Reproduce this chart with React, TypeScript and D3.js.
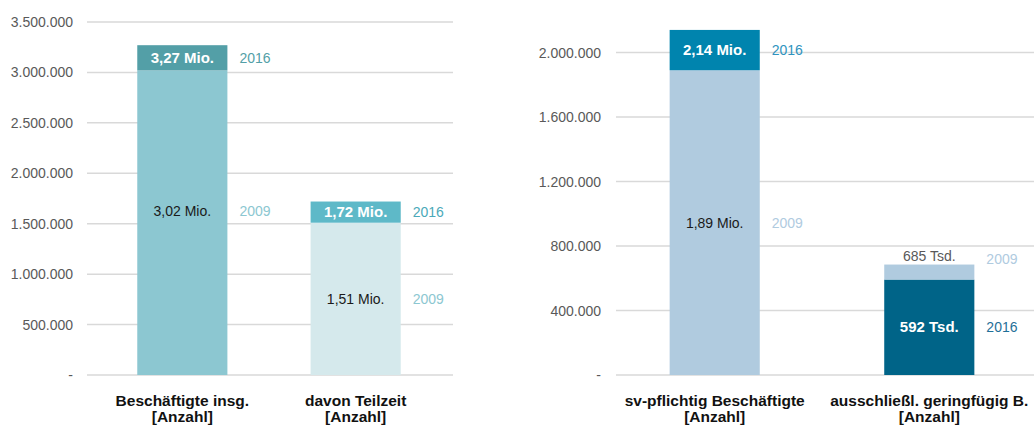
import React from "react";
import * as d3 from "d3";

// ---------- data ----------
const leftCategories = ["Beschäftigte insg.", "davon Teilzeit"];
const leftValues2009 = [3020000, 1510000];
const leftValues2016 = [3270000, 1720000];
const leftTicks = [0, 500000, 1000000, 1500000, 2000000, 2500000, 3000000, 3500000];

const rightCategories = ["sv-pflichtig Beschäftigte", "ausschließl. geringfügig B."];
const rightValues2009 = [1890000, 685000];
const rightValues2016 = [2140000, 592000];
const rightTicks = [0, 400000, 800000, 1200000, 1600000, 2000000];

const unitLabel = "[Anzahl]";
const years = ["2009", "2016"];

// ---------- styles ----------
const leftFill2009 = ["#8CC7D1", "#D5E9EC"];
const leftFill2016 = ["#539FA7", "#5EB9C8"];
const leftYear2009 = ["#8CC7D1", "#8CC7D1"];
const leftYear2016 = ["#539FA7", "#4BA9B9"];
const leftLowerLabelShift = [-12, 0];
const rightFill2009 = ["#B0CBDF", "#B0CBDF"];
const rightFill2016 = ["#0084AE", "#006488"];
const rightYear2009 = ["#B0CBDF", "#B0CBDF"];
const rightYear2016 = ["#2E93C0", "#1F7098"];
const rightLowerLabelShift = [0, 0];

const FONT = "'Liberation Sans', Arial, sans-serif";
const GRID = "#D9D9D9";
const TICK_TEXT = "#595959";

const de = d3.formatLocale({ decimal: ",", thousands: ".", grouping: [3], currency: ["", "€"] });
const fmtTick = (v: number) => (v === 0 ? "-" : de.format(",")(v));
const fmtValue = (v: number) =>
  v >= 1e6 ? `${(v / 1e6).toFixed(2).replace(".", ",")} Mio.` : `${Math.round(v / 1000)} Tsd.`;

type PanelProps = {
  categories: string[];
  v2009: number[];
  v2016: number[];
  fill2009: string[];
  fill2016: string[];
  year2009: string[];
  year2016: string[];
  lowerShift: number[];
  ticks: number[];
  yDomainMax: number;
  yRangeTop: number;
  gridX0: number;
  gridX1: number;
  bandX1: number;
  paddingInner: number;
  paddingOuter: number;
  labelRight: number;
};

function Panel(p: PanelProps) {
  const y0 = 375;
  const y = d3.scaleLinear().domain([0, p.yDomainMax]).range([y0, p.yRangeTop]);
  const x = d3
    .scaleBand<string>()
    .domain(p.categories)
    .range([p.gridX0, p.bandX1])
    .paddingInner(p.paddingInner)
    .paddingOuter(p.paddingOuter);
  const bw = x.bandwidth();

  return (
    <g>
      {p.ticks.map((t) => (
        <g key={t}>
          <line x1={p.gridX0} x2={p.gridX1} y1={y(t)} y2={y(t)} stroke={GRID} strokeWidth={1.5} />
          <text
            x={p.labelRight}
            y={y(t) + 5}
            textAnchor="end"
            fontSize={14}
            fontFamily={FONT}
            fill={TICK_TEXT}
          >
            {fmtTick(t)}
          </text>
        </g>
      ))}
      {p.categories.map((c, i) => {
        const bx = x(c) as number;
        const a = p.v2009[i];
        const b = p.v2016[i];
        const segs = [
          { year: years[0], v: a, fill: p.fill2009[i], yc: p.year2009[i] },
          { year: years[1], v: b, fill: p.fill2016[i], yc: p.year2016[i] },
        ].sort((s1, s2) => s1.v - s2.v);
        const lower = segs[0];
        const upper = segs[1];
        const lowerTop = y(lower.v);
        const upperTop = y(upper.v);
        const items = [
          { seg: lower, top: lowerTop, bottom: y0, shift: p.lowerShift[i] },
          { seg: upper, top: upperTop, bottom: lowerTop, shift: 0 },
        ];
        return (
          <g key={c}>
            {items.map((it) => (
              <rect
                key={it.seg.year}
                x={bx}
                y={it.top}
                width={bw}
                height={it.bottom - it.top}
                fill={it.seg.fill}
              />
            ))}
            {items.map((it) => {
              const h = it.bottom - it.top;
              const inside = h > 18;
              const isDark = it.seg.year === "2016";
              const cy = (inside ? (it.top + it.bottom) / 2 : it.top - 9) + it.shift;
              return (
                <g key={"l" + it.seg.year}>
                  <text
                    x={bx + bw / 2}
                    y={cy + 5}
                    textAnchor="middle"
                    fontFamily={FONT}
                    fontSize={inside && isDark ? 15 : 14}
                    fontWeight={inside && isDark ? "bold" : "normal"}
                    fill={inside ? (isDark ? "#FFFFFF" : "#1A1A1A") : TICK_TEXT}
                  >
                    {fmtValue(it.seg.v)}
                  </text>
                  <text
                    x={bx + bw + 12}
                    y={cy + (inside ? 5 : 8)}
                    textAnchor="start"
                    fontFamily={FONT}
                    fontSize={14}
                    fill={it.seg.yc}
                  >
                    {it.seg.year}
                  </text>
                </g>
              );
            })}
            <text
              x={bx + bw / 2}
              y={405.5}
              textAnchor="middle"
              fontFamily={FONT}
              fontSize={15.5}
              fontWeight="bold"
              fill="#111111"
            >
              {c}
            </text>
            <text
              x={bx + bw / 2}
              y={422}
              textAnchor="middle"
              fontFamily={FONT}
              fontSize={15.5}
              fontWeight="bold"
              fill="#111111"
            >
              {unitLabel}
            </text>
          </g>
        );
      })}
    </g>
  );
}

export default function App() {
  return (
    <svg
      width={1034}
      height={429}
      style={{ position: "absolute", left: 0, top: 0, background: "#FFFFFF" }}
    >
      <rect x={0} y={0} width={1034} height={429} fill="#FFFFFF" />
      <Panel
        categories={leftCategories}
        v2009={leftValues2009}
        v2016={leftValues2016}
        fill2009={leftFill2009}
        fill2016={leftFill2016}
        year2009={leftYear2009}
        year2016={leftYear2016}
        lowerShift={leftLowerLabelShift}
        ticks={leftTicks}
        yDomainMax={3500000}
        yRangeTop={22}
        gridX0={87}
        gridX1={453}
        bandX1={451}
        paddingInner={0.48}
        paddingOuter={0.29}
        labelRight={73}
      />
      <Panel
        categories={rightCategories}
        v2009={rightValues2009}
        v2016={rightValues2016}
        fill2009={rightFill2009}
        fill2016={rightFill2016}
        year2009={rightYear2009}
        year2016={rightYear2016}
        lowerShift={rightLowerLabelShift}
        ticks={rightTicks}
        yDomainMax={2000000}
        yRangeTop={52.5}
        gridX0={616}
        gridX1={1034}
        bandX1={1028}
        paddingInner={0.58}
        paddingOuter={0.25}
        labelRight={601}
      />
    </svg>
  );
}
